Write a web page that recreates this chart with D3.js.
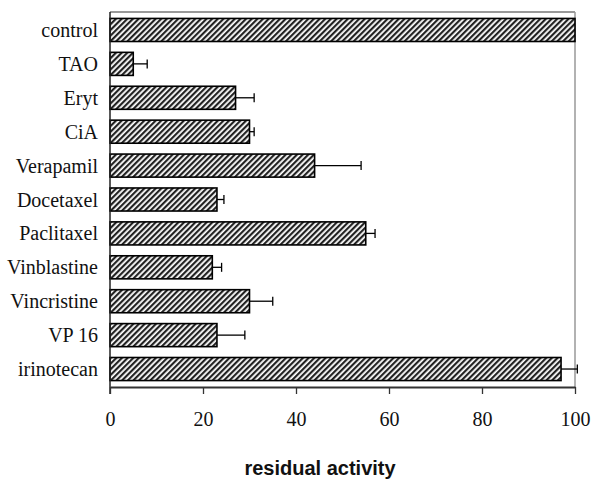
<!DOCTYPE html>
<html>
<head>
<meta charset="utf-8">
<script src="https://cdn.jsdelivr.net/npm/d3@7"></script>
<style>
  body { margin: 0; background: #fff; }
  .cat-label { font-family: "Liberation Serif", "Times New Roman", serif; font-size: 20px; fill: #111; }
  .x-axis text { font-family: "Liberation Serif", "Times New Roman", serif; font-size: 20px; fill: #111; }
  .axis-title { font-family: "Liberation Sans", Arial, sans-serif; font-size: 20px; font-weight: bold; fill: #111; }
</style>
</head>
<body>
<svg id="chart" width="592" height="481"></svg>
<script>
// data
const categories = ['control', 'TAO', 'Eryt', 'CiA', 'Verapamil', 'Docetaxel',
  'Paclitaxel', 'Vinblastine', 'Vincristine', 'VP 16', 'irinotecan'];
const values = [100, 5, 27, 30, 44, 23, 55, 22, 30, 23, 97];
const errors = [0, 3, 4, 1, 10, 1.5, 2, 2, 5, 6, 3.5];
const xTicks = [0, 20, 40, 60, 80, 100];

const svg = d3.select('#chart');
const margin = { top: 12, right: 17, bottom: 94, left: 110 };
const width = +svg.attr('width');
const height = +svg.attr('height');
const innerWidth = width - margin.left - margin.right;
const innerHeight = height - margin.top - margin.bottom;

const data = categories.map((c, i) => ({ name: c, value: values[i], err: errors[i] }));

// hatch pattern
const defs = svg.append('defs');
defs.append('pattern')
    .attr('id', 'hatch')
    .attr('patternUnits', 'userSpaceOnUse')
    .attr('width', 4)
    .attr('height', 4)
    .attr('patternTransform', 'rotate(45)')
  .call(p => {
    p.append('rect').attr('width', 4).attr('height', 4).attr('fill', '#fff');
    p.append('rect').attr('width', 2.2).attr('height', 4).attr('fill', '#222');
  });

const xScale = d3.scaleLinear()
  .domain([0, 100])
  .range([0, innerWidth]);

const yScale = d3.scaleBand()
  .domain(categories)
  .range([0, innerHeight])
  .paddingInner(0.32)
  .paddingOuter(0.19);

const g = svg.append('g')
  .attr('transform', `translate(${margin.left},${margin.top})`);

// frame (top + right grey)
g.append('line')
  .attr('x1', 0).attr('x2', innerWidth).attr('y1', 0).attr('y2', 0)
  .attr('stroke', '#999').attr('stroke-width', 2);
g.append('line')
  .attr('x1', innerWidth).attr('x2', innerWidth).attr('y1', 0).attr('y2', innerHeight)
  .attr('stroke', '#999').attr('stroke-width', 1.5);

// bars
g.selectAll('.bar').data(data)
  .join('rect')
    .attr('class', 'bar')
    .attr('x', 0)
    .attr('y', d => yScale(d.name))
    .attr('width', d => xScale(d.value))
    .attr('height', yScale.bandwidth())
    .attr('fill', 'url(#hatch)')
    .attr('stroke', '#000')
    .attr('stroke-width', 1.6);

// error bars
const errG = g.selectAll('.err').data(data.filter(d => d.err > 0))
  .join('g')
    .attr('class', 'err')
    .attr('transform', d => `translate(0,${yScale(d.name) + yScale.bandwidth() / 2})`);
errG.append('line')
  .attr('x1', d => xScale(d.value))
  .attr('x2', d => xScale(d.value + d.err))
  .attr('stroke', '#000').attr('stroke-width', 1.3);
errG.append('line')
  .attr('x1', d => xScale(d.value + d.err))
  .attr('x2', d => xScale(d.value + d.err))
  .attr('y1', -4.5).attr('y2', 4.5)
  .attr('stroke', '#000').attr('stroke-width', 1.3);

// category labels
g.selectAll('.cat-label').data(categories)
  .join('text')
    .attr('class', 'cat-label')
    .attr('x', -12)
    .attr('y', d => yScale(d) + yScale.bandwidth() / 2)
    .attr('dy', '0.35em')
    .attr('text-anchor', 'end')
    .text(d => d);

// left axis line
g.append('line')
  .attr('x1', 0).attr('x2', 0).attr('y1', 0).attr('y2', innerHeight + 7)
  .attr('stroke', '#222').attr('stroke-width', 1.5);

// x axis
const xAxisG = g.append('g')
  .attr('class', 'x-axis')
  .attr('transform', `translate(0,${innerHeight})`)
  .call(d3.axisBottom(xScale).tickValues(xTicks).tickSize(7).tickPadding(18).tickSizeOuter(0));
xAxisG.select('.domain').attr('stroke', '#333').attr('stroke-width', 2);
xAxisG.selectAll('.tick line').attr('stroke', '#333').attr('stroke-width', 1.3);

svg.append('text')
  .attr('class', 'axis-title')
  .attr('x', 320)
  .attr('y', 475)
  .attr('text-anchor', 'middle')
  .text('residual activity');
</script>
</body>
</html>
